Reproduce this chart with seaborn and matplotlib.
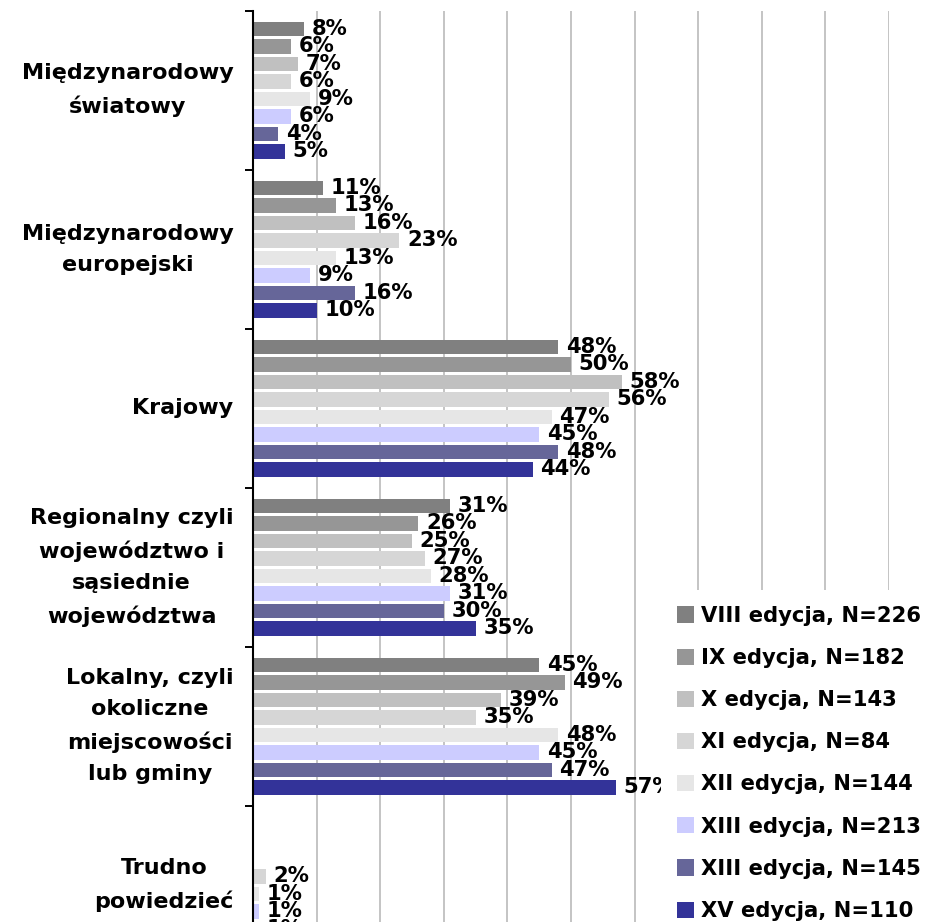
import matplotlib
matplotlib.use('Agg')
import matplotlib.pyplot as plt
from matplotlib.patches import Patch
import numpy as np
import pandas as pd
import seaborn as sns

sns.set_style('white')
plt.rcParams['font.family'] = ['DejaVu Sans']
plt.rcParams['font.weight'] = 'bold'
plt.rcParams['text.color'] = 'black'
plt.rcParams['ytick.color'] = 'black'
plt.rcParams['xtick.color'] = 'black'

# Data (percent of answers)
categories = [
    'Międzynarodowy\nświatowy',
    'Międzynarodowy\neuropejski',
    'Krajowy',
    'Regionalny czyli\nwojewództwo i\nsąsiednie\nwojewództwa',
    'Lokalny, czyli\nokoliczne\nmiejscowości\nlub gminy',
    'Trudno\npowiedzieć',
]
editions = [
    'VIII edycja, N=226',
    'IX edycja, N=182',
    'X edycja, N=143',
    'XI edycja, N=84',
    'XII edycja, N=144',
    'XIII edycja, N=213',
    'XIII edycja, N=145',
    'XV edycja, N=110',
]
viii = [8, 11, 48, 31, 45, np.nan]
ix = [6, 13, 50, 26, 49, np.nan]
x_ed = [7, 16, 58, 25, 39, np.nan]
xi = [6, 23, 56, 27, 35, 2]
xii = [9, 13, 47, 28, 48, 1]
xiii_a = [6, 9, 45, 31, 45, 1]
xiii_b = [4, 16, 48, 30, 47, 1]
xv = [5, 10, 44, 35, 57, 1]
series = [viii, ix, x_ed, xi, xii, xiii_a, xiii_b, xv]

colors = ['#808080', '#969696', '#C0C0C0', '#D6D6D6',
          '#E6E6E6', '#CCCCFF', '#666699', '#333399']

rows = []
for ed, vals in zip(editions, series):
    for cat, v in zip(categories, vals):
        rows.append({'kategoria': cat, 'edycja': ed, 'procent': v})
df = pd.DataFrame(rows).dropna()

fig = plt.figure(figsize=(9.28, 9.22), dpi=100)
ax = fig.add_axes([253 / 928, 1 - 964.7 / 922, (889 - 253) / 928, 954 / 922])

sns.barplot(data=df, y='kategoria', x='procent', hue='edycja',
            order=categories, hue_order=editions, palette=colors,
            saturation=1, orient='h', width=0.88, gap=0.17, errorbar=None,
            linewidth=0, edgecolor='none',
            legend=False, ax=ax, zorder=2)

for c in ax.containers:
    ax.bar_label(c, fmt='{:.0f}%', padding=5.5, fontsize=15.2,
                 fontweight='bold', color='black')

ax.set_xlim(0, 100)
ax.set_ylim(5.5, -0.5)
ax.set_xticks(np.arange(0, 101, 10))
ax.tick_params(axis='x', bottom=False, labelbottom=False)
ax.xaxis.grid(True, color='#C4C4C4', linewidth=1.4)
ax.set_axisbelow(True)

# category labels centred, ticks on category boundaries
ax.set_yticks(np.arange(len(categories)))
ax.set_yticklabels(categories, fontsize=16, fontweight='bold',
                   linespacing=1.7, color='black', va='center')
for t in ax.get_yticklabels():
    t.set_multialignment('center')
ax.set_yticks(np.arange(-0.5, len(categories), 1), minor=True)
ax.tick_params(axis='y', which='major', length=0, pad=14)
ax.tick_params(axis='y', which='minor', length=6, width=1.4,
               color='black', direction='out', left=True)

ax.set_xlabel('')
ax.set_ylabel('')
for side in ['top', 'right', 'bottom']:
    ax.spines[side].set_visible(False)
ax.spines['left'].set_color('black')
ax.spines['left'].set_linewidth(1.5)

handles = [Patch(facecolor=col, edgecolor='none') for col in colors]
leg = fig.legend(handles, editions, loc='upper left',
                 bbox_to_anchor=(661 / 928, 1 - 590 / 922),
                 frameon=True, framealpha=1, facecolor='white',
                 edgecolor='none', fancybox=False,
                 prop={'size': 15.2, 'weight': 'bold'},
                 handlelength=0.8, handleheight=0.8, handletextpad=0.33,
                 labelspacing=1.05, borderpad=0.75, borderaxespad=0)
leg.set_zorder(10)

fig.savefig('out.png', dpi=100)
